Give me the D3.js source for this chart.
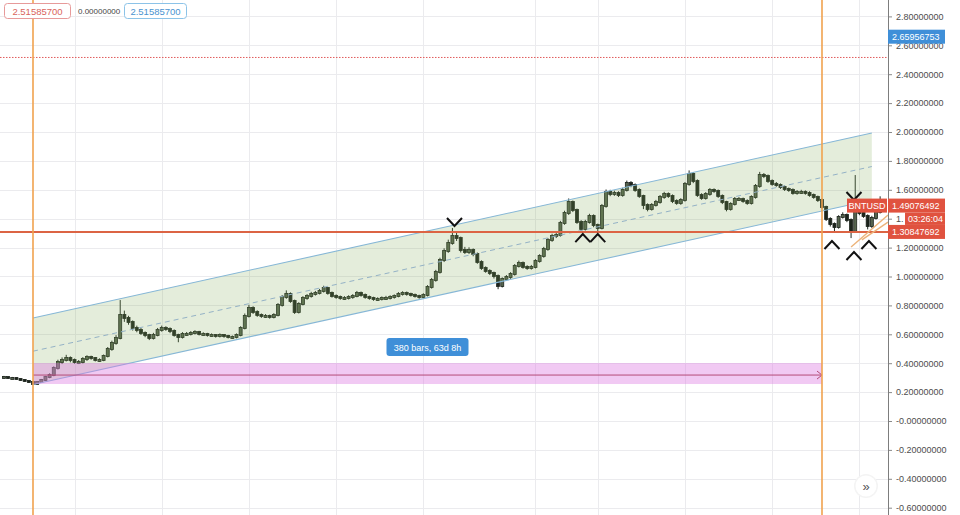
<!DOCTYPE html>
<html>
<head>
<meta charset="utf-8">
<script src="https://cdn.jsdelivr.net/npm/d3@7"></script>
<style>
  html, body { margin: 0; padding: 0; background: #fff; overflow: hidden; }
  svg { display: block; font-family: "Liberation Sans", Arial, sans-serif; }
</style>
</head>
<body>
<svg id="chart" width="960" height="515"></svg>
<script>
// ---- BNTUSD, 8h candles ----
const barStart = Date.UTC(2020, 4, 19, 8);   // first candle
const barHours = 8;
const firstOpen = 0.300;

const closes = [
  0.304,0.298,0.298,0.291,0.284,0.277,0.270,0.256,0.270,0.284,
  0.304,0.318,0.367,0.408,0.422,0.436,0.422,0.408,0.408,0.429,
  0.443,0.436,0.422,0.422,0.450,0.498,0.540,0.574,0.734,0.713,
  0.685,0.644,0.630,0.609,0.595,0.574,0.595,0.630,0.644,0.637,
  0.623,0.595,0.581,0.602,0.602,0.609,0.616,0.602,0.602,0.595,
  0.595,0.588,0.595,0.588,0.581,0.581,0.595,0.644,0.727,0.782,
  0.754,0.734,0.727,0.727,0.720,0.734,0.803,0.858,0.879,0.830,
  0.754,0.810,0.851,0.865,0.879,0.886,0.900,0.920,0.886,0.865,
  0.858,0.851,0.851,0.858,0.865,0.886,0.872,0.858,0.851,0.844,
  0.844,0.851,0.851,0.858,0.865,0.879,0.886,0.879,0.872,0.865,
  0.858,0.872,0.927,0.976,1.031,1.114,1.176,1.232,1.280,1.266,
  1.183,1.169,1.183,1.156,1.100,1.059,1.038,1.024,1.003,0.934,
  0.983,0.996,1.017,1.073,1.093,1.066,1.059,1.066,1.107,1.142,
  1.190,1.253,1.280,1.287,1.370,1.439,1.515,1.460,1.377,1.329,
  1.377,1.419,1.356,1.336,1.488,1.585,1.571,1.578,1.564,1.599,
  1.647,1.633,1.599,1.557,1.495,1.467,1.495,1.515,1.550,1.571,
  1.557,1.522,1.509,1.529,1.640,1.709,1.661,1.564,1.543,1.571,
  1.599,1.592,1.557,1.515,1.467,1.502,1.536,1.536,1.522,1.509,
  1.550,1.626,1.702,1.695,1.661,1.640,1.633,1.619,1.605,1.599,
  1.578,1.585,1.585,1.578,1.564,1.550,1.529,1.481,1.398,1.363,
  1.342,1.412,1.425,1.391,1.315,1.446,1.439,1.419,1.349,1.405,
  1.446,1.4908
];

const highs = [
  0.312,0.309,0.305,0.302,0.295,0.289,0.282,0.274,0.276,0.291,
  0.312,0.330,0.378,0.424,0.440,0.458,0.447,0.432,0.422,0.442,
  0.455,0.452,0.443,0.434,0.460,0.512,0.556,0.594,0.837,0.764,
  0.728,0.696,0.660,0.644,0.620,0.604,0.610,0.644,0.660,0.656,
  0.648,0.634,0.604,0.615,0.616,0.622,0.628,0.624,0.614,0.610,
  0.606,0.602,0.606,0.602,0.596,0.592,0.606,0.656,0.744,0.804,
  0.794,0.766,0.744,0.740,0.736,0.746,0.816,0.872,0.904,0.890,
  0.840,0.822,0.864,0.878,0.894,0.900,0.914,0.936,0.928,0.896,
  0.876,0.868,0.864,0.870,0.878,0.900,0.896,0.882,0.868,0.860,
  0.856,0.862,0.866,0.870,0.876,0.892,0.898,0.896,0.888,0.882,
  0.874,0.884,0.940,0.990,1.046,1.130,1.195,1.255,1.336,1.305,
  1.276,1.205,1.202,1.194,1.166,1.112,1.070,1.050,1.034,1.014,
  0.994,1.010,1.030,1.086,1.110,1.104,1.078,1.080,1.120,1.154,
  1.205,1.266,1.296,1.302,1.385,1.455,1.540,1.526,1.470,1.390,
  1.392,1.434,1.430,1.366,1.502,1.602,1.600,1.594,1.590,1.614,
  1.664,1.660,1.644,1.610,1.566,1.506,1.508,1.530,1.564,1.586,
  1.582,1.568,1.534,1.542,1.654,1.734,1.722,1.672,1.576,1.584,
  1.612,1.610,1.602,1.568,1.524,1.514,1.550,1.550,1.546,1.534,
  1.562,1.640,1.724,1.716,1.706,1.672,1.654,1.644,1.630,1.616,
  1.610,1.598,1.600,1.596,1.590,1.574,1.560,1.540,1.490,1.410,
  1.374,1.424,1.444,1.436,1.402,1.702,1.464,1.454,1.430,1.420,
  1.460,1.555
];

const lows = [
  0.296,0.292,0.291,0.286,0.279,0.272,0.265,0.250,0.252,0.266,
  0.278,0.296,0.310,0.356,0.394,0.412,0.406,0.396,0.394,0.398,
  0.416,0.424,0.412,0.410,0.414,0.440,0.486,0.528,0.565,0.686,
  0.666,0.626,0.614,0.596,0.580,0.560,0.564,0.586,0.618,0.624,
  0.608,0.584,0.545,0.571,0.590,0.592,0.599,0.592,0.591,0.584,
  0.584,0.577,0.578,0.576,0.571,0.570,0.572,0.586,0.634,0.716,
  0.741,0.721,0.714,0.714,0.708,0.710,0.724,0.792,0.846,0.818,
  0.741,0.744,0.800,0.839,0.854,0.868,0.876,0.889,0.874,0.854,
  0.846,0.839,0.838,0.841,0.846,0.856,0.860,0.846,0.839,0.832,
  0.832,0.834,0.839,0.841,0.847,0.856,0.868,0.867,0.861,0.854,
  0.846,0.848,0.862,0.916,0.964,1.020,1.100,1.164,1.220,1.246,
  1.166,1.156,1.156,1.140,1.088,1.046,1.026,1.010,0.986,0.912,
  0.924,0.970,0.984,1.006,1.062,1.054,1.046,1.048,1.056,1.096,
  1.130,1.178,1.240,1.266,1.276,1.358,1.426,1.446,1.364,1.312,
  1.318,1.366,1.341,1.315,1.326,1.476,1.556,1.558,1.550,1.552,
  1.588,1.618,1.586,1.544,1.466,1.451,1.456,1.484,1.504,1.538,
  1.544,1.508,1.496,1.496,1.518,1.628,1.646,1.551,1.531,1.532,
  1.559,1.579,1.544,1.501,1.451,1.456,1.491,1.524,1.510,1.496,
  1.498,1.539,1.614,1.681,1.648,1.628,1.621,1.606,1.592,1.586,
  1.566,1.566,1.572,1.566,1.552,1.538,1.516,1.468,1.384,1.346,
  1.310,1.331,1.401,1.376,1.266,1.308,1.424,1.406,1.326,1.336,
  1.394,1.436
];

// price scale ticks
const priceTicks = [2.8, 2.6, 2.4, 2.2, 2.0, 1.8, 1.6, 1.4, 1.2, 1.0, 0.8, 0.6, 0.4, 0.2, 0, -0.2, -0.4, -0.6];
const priceTickLabels = ["2.80000000","2.60000000","2.40000000","2.20000000","2.00000000","1.80000000",
  "1.60000000","1.40000000","1.20000000","1.00000000","0.80000000","0.60000000","0.40000000",
  "0.20000000","-0.00000000","-0.20000000","-0.40000000","-0.60000000"];

// time grid (weekly, with the month start)
const gridDates = [
  Date.UTC(2020,4,25), Date.UTC(2020,5,1), Date.UTC(2020,5,8), Date.UTC(2020,5,15), Date.UTC(2020,5,22),
  Date.UTC(2020,6,1), Date.UTC(2020,6,6), Date.UTC(2020,6,13), Date.UTC(2020,6,20), Date.UTC(2020,6,27)
];

// levels and labels
const symbol = "BNTUSD";
const lastPrice = 1.49076492;
const lastPriceText = "1.49076492";
const countdownText = "03:26:04";
const alertPrice = 1.30847692;
const alertPriceText = "1.30847692";
const crossPrice = 2.65956753;
const crossPriceText = "2.65956753";
const highLevel = 2.515857;
const headerTexts = ["2.51585700", "0.00000000", "2.51585700"];

// date range measure
const measureStart = Date.UTC(2020, 4, 21, 16);
const measureEnd = Date.UTC(2020, 6, 24, 0);
const measureText = "380 bars, 63d 8h";
const measureBox = [0.256, 0.401];
const measureLinePrice = 0.318;

// parallel channel: [start, end] prices
const channelTimes = [Date.UTC(2020, 4, 21, 16), Date.UTC(2020, 6, 28, 0)];
const channelUpper = [0.713, 1.993];
const channelMid = [0.483, 1.761];
const channelLower = [0.253, 1.529];

// turning-point marks (bar index, price)
const marks = [
  { bar: 108.5, price: 1.377, dir: "down" },
  { bar: 139.4, price: 1.266, dir: "up" },
  { bar: 143.0, price: 1.266, dir: "up" },
  { bar: 199.4, price: 1.218, dir: "up" },
  { bar: 204.7, price: 1.557, dir: "down" },
  { bar: 204.7, price: 1.142, dir: "up" },
  { bar: 208.3, price: 1.218, dir: "up" }
];

// short trend lines at the right edge: [barA, priceA, barB, priceB]
const trendLines = [
  [204.0, 1.204, 212.9, 1.426],
  [206.6, 1.253, 212.9, 1.377]
];

// ---------------------------------------------------------------
const W = 960, H = 515, plotRight = 888;
const msBar = barHours * 3600e3;
const barTime = b => new Date(barStart + b * msBar);

const candles = closes.map((c, i) => ({
  t: barTime(i),
  o: i === 0 ? firstOpen : closes[i - 1],
  h: highs[i], l: lows[i], c
}));

const x = d3.scaleUtc().domain([measureStart, measureEnd]).range([33, 822]);
const y = d3.scaleLinear().domain([0, 2.8]).range([421, 16.4]);
const barW = x(barTime(1)) - x(barTime(0));

const svg = d3.select("#chart");
svg.append("rect").attr("width", W).attr("height", H).attr("fill", "#fff");

const defs = svg.append("defs");
defs.append("clipPath").attr("id", "plot")
  .append("rect").attr("x", 0).attr("y", 0).attr("width", plotRight).attr("height", H);

const plot = svg.append("g").attr("clip-path", "url(#plot)");

// grid
plot.append("g").selectAll("line").data(priceTicks).join("line")
  .attr("x1", 0).attr("x2", plotRight)
  .attr("y1", d => Math.round(y(d)) + 0.5).attr("y2", d => Math.round(y(d)) + 0.5)
  .attr("stroke", "#ebebee").attr("stroke-width", 1);
plot.append("g").selectAll("line").data(gridDates).join("line")
  .attr("x1", d => Math.round(x(d)) + 0.5).attr("x2", d => Math.round(x(d)) + 0.5)
  .attr("y1", 0).attr("y2", H)
  .attr("stroke", "#ebebee").attr("stroke-width", 1);

// candles
const cg = plot.append("g");
cg.selectAll("line").data(candles).join("line")
  .attr("x1", d => x(d.t)).attr("x2", d => x(d.t))
  .attr("y1", d => y(d.h)).attr("y2", d => y(d.l))
  .attr("stroke", "#242c24").attr("stroke-width", 1);
cg.selectAll("rect").data(candles).join("rect")
  .attr("x", d => x(d.t) - barW * 0.36)
  .attr("width", barW * 0.72)
  .attr("y", d => y(Math.max(d.o, d.c)) - 0.5)
  .attr("height", d => Math.max(2, Math.abs(y(d.o) - y(d.c)) + 1))
  .attr("fill", d => d.c >= d.o ? "#56644f" : "#1c231c")
  .attr("stroke", "#1c231c").attr("stroke-width", 0.8);

// channel
const tA = channelTimes[0], tB = channelTimes[1];
plot.append("path")
  .attr("d", `M${x(tA)},${y(channelUpper[0])}L${x(tB)},${y(channelUpper[1])}L${x(tB)},${y(channelLower[1])}L${x(tA)},${y(channelLower[0])}Z`)
  .attr("fill", "rgba(130,175,90,0.22)");
[channelUpper, channelLower].forEach(p => {
  plot.append("line")
    .attr("x1", x(tA)).attr("y1", y(p[0])).attr("x2", x(tB)).attr("y2", y(p[1]))
    .attr("stroke", "#86b7d6").attr("stroke-width", 1.1);
});
plot.append("line")
  .attr("x1", x(tA)).attr("y1", y(channelMid[0])).attr("x2", x(tB)).attr("y2", y(channelMid[1]))
  .attr("stroke", "#94b2c6").attr("stroke-width", 1).attr("stroke-dasharray", "5,4");

// measure box
plot.append("rect")
  .attr("x", x(measureStart)).attr("width", x(measureEnd) - x(measureStart))
  .attr("y", y(measureBox[1])).attr("height", y(measureBox[0]) - y(measureBox[1]))
  .attr("fill", "rgba(220,120,225,0.40)");
const my = y(measureLinePrice);
plot.append("line")
  .attr("x1", x(measureStart)).attr("x2", x(measureEnd))
  .attr("y1", my).attr("y2", my)
  .attr("stroke", "#b44b78").attr("stroke-width", 1);
plot.append("path")
  .attr("d", `M${x(measureEnd) - 5},${my - 4}L${x(measureEnd)},${my}L${x(measureEnd) - 5},${my + 4}`)
  .attr("fill", "none").attr("stroke", "#b44b78").attr("stroke-width", 1);

const mcx = (x(measureStart) + x(measureEnd)) / 2;
const mLabelY = y(measureBox[1]) - 16;
plot.append("rect")
  .attr("x", mcx - 41).attr("y", mLabelY - 9).attr("width", 82).attr("height", 18)
  .attr("rx", 3).attr("fill", "#3f8fd8");
plot.append("text")
  .attr("x", mcx).attr("y", mLabelY + 3.5).attr("text-anchor", "middle")
  .attr("font-size", 9).attr("fill", "#fff").text(measureText);

// horizontal levels
plot.append("line")
  .attr("x1", 0).attr("x2", plotRight).attr("y1", y(highLevel)).attr("y2", y(highLevel))
  .attr("stroke", "#e05a5a").attr("stroke-width", 1).attr("stroke-dasharray", "1.5,1.5");
plot.append("line")
  .attr("x1", 0).attr("x2", plotRight).attr("y1", y(alertPrice)).attr("y2", y(alertPrice))
  .attr("stroke", "#dc6444").attr("stroke-width", 2);

// vertical markers at measure ends
[measureStart, measureEnd].forEach(t => {
  plot.append("line")
    .attr("x1", x(t)).attr("x2", x(t)).attr("y1", 0).attr("y2", H)
    .attr("stroke", "#f0a24e").attr("stroke-width", 1.6);
});

// trend lines
trendLines.forEach(([b0, p0, b1, p1]) => {
  plot.append("line")
    .attr("x1", x(barTime(b0))).attr("y1", y(p0))
    .attr("x2", x(barTime(b1))).attr("y2", y(p1))
    .attr("stroke", "#ecb37a").attr("stroke-width", 1.4);
});

// turning-point chevrons
plot.append("g").selectAll("path").data(marks).join("path")
  .attr("d", d => {
    const cx = x(barTime(d.bar)), cy = y(d.price);
    return d.dir === "down"
      ? `M${cx - 7.5},${cy - 4}L${cx},${cy + 4}L${cx + 7.5},${cy - 4}`
      : `M${cx - 7.5},${cy + 4}L${cx},${cy - 4}L${cx + 7.5},${cy + 4}`;
  })
  .attr("fill", "none").attr("stroke", "#111").attr("stroke-width", 2);

// price axis
const cdLeft = 905;
const cdTop = y(lastPrice) + 7, cdBot = y(alertPrice) - 7;
const behindCountdown = d => y(d) > cdTop && y(d) < cdBot;

const axisG = svg.append("g").attr("transform", `translate(${plotRight},0)`);
axisG.append("rect").attr("x", 0.5).attr("y", 0).attr("width", W - plotRight).attr("height", H).attr("fill", "#fff");
axisG.call(d3.axisRight(y).tickValues(priceTicks)
  // a label covered by the countdown box only shows its leading "1."
  .tickFormat((d, i) => behindCountdown(d) ? priceTickLabels[i].slice(0, 2) : priceTickLabels[i])
  .tickSize(4).tickPadding(4))
  .call(g => g.select(".domain").remove())
  .call(g => g.selectAll(".tick line").attr("stroke", "#8a8a8a"))
  .call(g => g.selectAll(".tick text").attr("fill", "#4d4d4d")
    .attr("font-size", 9).attr("font-family", "'Liberation Sans', Arial, sans-serif"));
axisG.append("line").attr("x1", 0.5).attr("x2", 0.5).attr("y1", 0).attr("y2", H)
  .attr("stroke", "#7d7d7d").attr("stroke-width", 1);

// price labels on the axis
function axisTag(price, text, fill, x0, w) {
  const cy = y(price);
  svg.append("rect").attr("x", x0).attr("y", cy - 7).attr("width", w).attr("height", 14).attr("fill", fill);
  svg.append("text").attr("x", x0 + 4).attr("y", cy + 3.3).attr("font-size", 9).attr("fill", "#fff").text(text);
}
axisTag(crossPrice, crossPriceText, "#3f8fd8", plotRight, 57);
axisTag(lastPrice, lastPriceText, "#e0523f", plotRight, 57);
axisTag(alertPrice, alertPriceText, "#e0523f", plotRight, 57);

// countdown under the last price
svg.append("rect").attr("x", cdLeft).attr("y", cdTop).attr("width", 40).attr("height", cdBot - cdTop).attr("fill", "#e0523f");
svg.append("text").attr("x", cdLeft + 3).attr("y", (cdTop + cdBot) / 2 + 3.3)
  .attr("font-size", 9).attr("fill", "#fff").text(countdownText);

// symbol tag
const ly = y(lastPrice);
svg.append("rect").attr("x", 847).attr("y", ly - 7).attr("width", 40).attr("height", 14).attr("fill", "#e0523f");
svg.append("text").attr("x", 867).attr("y", ly + 3.3).attr("text-anchor", "middle")
  .attr("font-size", 9).attr("fill", "#fff").text(symbol);

// header values
const hdr = svg.append("g");
hdr.append("rect").attr("x", 4.5).attr("y", 3.5).attr("width", 66).attr("height", 15).attr("rx", 3)
  .attr("fill", "#fff").attr("stroke", "#e79a9a");
hdr.append("text").attr("x", 37.5).attr("y", 14.5).attr("text-anchor", "middle")
  .attr("font-size", 9.5).attr("fill", "#d9645c").text(headerTexts[0]);
hdr.append("text").attr("x", 78).attr("y", 14).attr("font-size", 8).attr("fill", "#444").text(headerTexts[1]);
hdr.append("rect").attr("x", 124.5).attr("y", 3.5).attr("width", 62).attr("height", 15).attr("rx", 3)
  .attr("fill", "#fff").attr("stroke", "#8cc3e8");
hdr.append("text").attr("x", 155.5).attr("y", 14.5).attr("text-anchor", "middle")
  .attr("font-size", 9.5).attr("fill", "#4a93cf").text(headerTexts[2]);

// scroll-to-latest button
const btn = svg.append("g").attr("transform", "translate(866,486)");
btn.append("circle").attr("r", 12).attr("fill", "#f4f4f4");
btn.append("circle").attr("r", 10.5).attr("fill", "#fff");
btn.append("text").attr("y", 4.5).attr("text-anchor", "middle").attr("font-size", 13)
  .attr("fill", "#555").text("»");
</script>
</body>
</html>
